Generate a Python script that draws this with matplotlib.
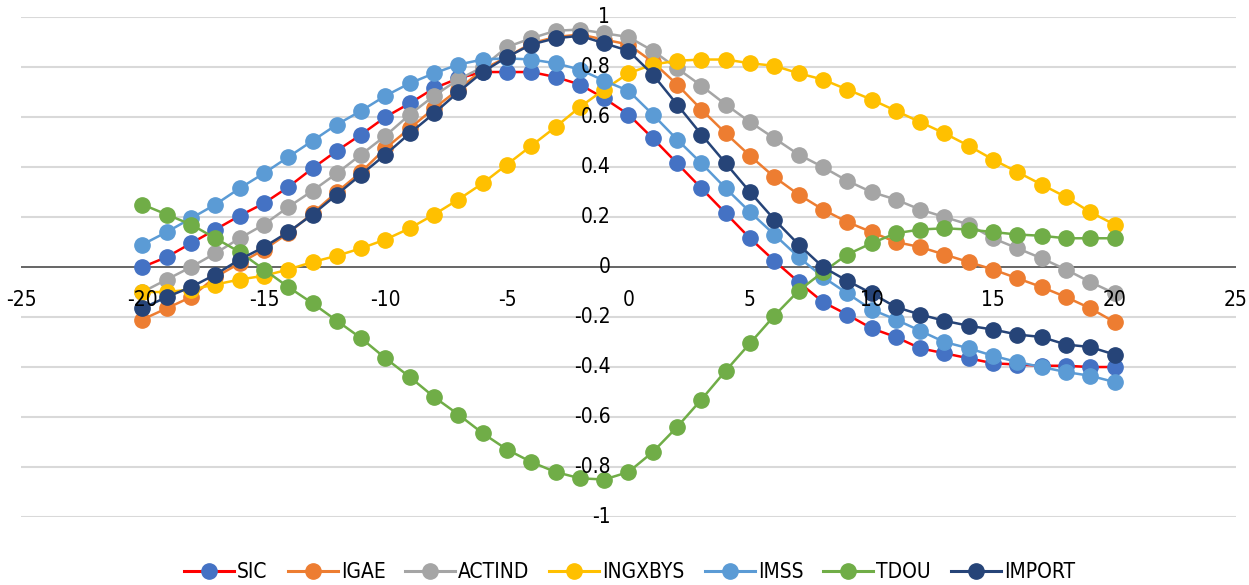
import matplotlib
matplotlib.use("Agg")
import matplotlib.pyplot as plt
from matplotlib.lines import Line2D

plt.rcParams["font.family"] = ["DejaVu Sans"]
plt.rcParams["font.stretch"] = "condensed"

# lags -20..20
lags = list(range(-20, 21))

sic = [0.00, 0.04, 0.095, 0.15, 0.205, 0.255, 0.32, 0.395, 0.465, 0.53, 0.60,
       0.655, 0.715, 0.755, 0.78, 0.78, 0.78, 0.76, 0.73, 0.675, 0.61,
       0.515, 0.415, 0.315, 0.215, 0.115, 0.025, -0.06, -0.14, -0.19, -0.245,
       -0.28, -0.325, -0.345, -0.365, -0.385, -0.39, -0.395, -0.395, -0.40, -0.40]
igae = [-0.21, -0.165, -0.12, -0.04, 0.015, 0.07, 0.135, 0.215, 0.30, 0.38, 0.475,
        0.555, 0.635, 0.71, 0.79, 0.84, 0.895, 0.92, 0.93, 0.91, 0.89,
        0.82, 0.73, 0.63, 0.535, 0.445, 0.36, 0.29, 0.23, 0.18, 0.14,
        0.10, 0.08, 0.05, 0.02, -0.01, -0.045, -0.08, -0.12, -0.165, -0.22]
actind = [-0.10, -0.05, 0.00, 0.055, 0.115, 0.17, 0.24, 0.305, 0.375, 0.45, 0.525,
          0.61, 0.685, 0.75, 0.80, 0.88, 0.915, 0.945, 0.95, 0.935, 0.92,
          0.865, 0.795, 0.725, 0.65, 0.58, 0.515, 0.45, 0.40, 0.345, 0.30,
          0.27, 0.23, 0.20, 0.17, 0.115, 0.075, 0.035, -0.01, -0.06, -0.105]
ingxbys = [-0.10, -0.10, -0.09, -0.07, -0.05, -0.035, -0.01, 0.02, 0.045, 0.075, 0.11,
           0.155, 0.21, 0.27, 0.335, 0.41, 0.485, 0.56, 0.64, 0.71, 0.775,
           0.81, 0.825, 0.83, 0.83, 0.815, 0.805, 0.775, 0.75, 0.71, 0.67,
           0.625, 0.58, 0.535, 0.485, 0.43, 0.38, 0.33, 0.28, 0.22, 0.17]
imss = [0.09, 0.14, 0.195, 0.25, 0.315, 0.375, 0.44, 0.505, 0.57, 0.625, 0.685,
        0.735, 0.775, 0.81, 0.83, 0.835, 0.83, 0.815, 0.79, 0.745, 0.705,
        0.61, 0.51, 0.415, 0.315, 0.22, 0.13, 0.04, -0.04, -0.105, -0.17,
        -0.21, -0.255, -0.30, -0.325, -0.355, -0.38, -0.40, -0.42, -0.435, -0.46]
tdou = [0.25, 0.21, 0.17, 0.115, 0.06, -0.01, -0.08, -0.145, -0.215, -0.285, -0.365,
        -0.44, -0.52, -0.59, -0.665, -0.73, -0.78, -0.82, -0.845, -0.85, -0.82,
        -0.74, -0.64, -0.53, -0.415, -0.305, -0.195, -0.095, -0.02, 0.05, 0.095,
        0.135, 0.15, 0.155, 0.15, 0.14, 0.13, 0.125, 0.115, 0.115, 0.115]
imports = [-0.165, -0.12, -0.08, -0.03, 0.03, 0.08, 0.14, 0.21, 0.29, 0.37, 0.45,
           0.535, 0.615, 0.70, 0.78, 0.84, 0.89, 0.915, 0.925, 0.895, 0.865,
           0.77, 0.65, 0.53, 0.415, 0.30, 0.19, 0.09, 0.00, -0.055, -0.105,
           -0.16, -0.19, -0.215, -0.235, -0.25, -0.27, -0.28, -0.31, -0.32, -0.35]

names = ["SIC", "IGAE", "ACTIND", "INGXBYS", "IMSS", "TDOU", "IMPORT"]
series = [sic, igae, actind, ingxbys, imss, tdou, imports]
marker_colors = ["#4472C4", "#ED7D31", "#A5A5A5", "#FFC000", "#5B9BD5", "#70AD47", "#264478"]
line_colors = ["#FF0000", "#ED7D31", "#A5A5A5", "#FFC000", "#5B9BD5", "#70AD47", "#264478"]

xticks = [-25, -20, -15, -10, -5, 0, 5, 10, 15, 20, 25]
yticks = [-1, -0.8, -0.6, -0.4, -0.2, 0, 0.2, 0.4, 0.6, 0.8, 1]

fig = plt.figure(figsize=(12.49, 5.85), dpi=100)
ax = fig.add_axes([0.0168, 0.1162, 0.9728, 0.8547])
ax.set_xlim(-25, 25)
ax.set_ylim(-1, 1)
for s in ax.spines.values():
    s.set_visible(False)
ax.set_xticks([])
ax.set_yticks([])

for v in yticks:
    if v != 0:
        ax.axhline(v, color="#D9D9D9", lw=1.5, zorder=0)
ax.axhline(0, color="#595959", lw=1.3, zorder=1)

handles = []
for name, ys, mc, lc in zip(names, series, marker_colors, line_colors):
    ax.plot(lags, ys, color=lc, lw=1.8, marker="o", ms=11, mfc=mc, mec=mc, zorder=3)
    handles.append(Line2D([], [], color=lc, lw=2.2, marker="o", ms=11, mfc=mc, mec=mc))

# tick labels sit on top of the markers, like the original
for v in yticks:
    ax.text(-0.75, v, "%g" % v, ha="right", va="center", fontsize=15, zorder=5)
for v in xticks:
    ax.text(v, -0.13, "%g" % v, ha="center", va="center", fontsize=15, zorder=5)

fig.legend(handles, names, loc="center", bbox_to_anchor=(0.504, 0.022), ncol=7,
           frameon=False, fontsize=15, handlelength=2.4, columnspacing=0.95,
           handletextpad=0.15)

fig.savefig("out.png", dpi=100)
